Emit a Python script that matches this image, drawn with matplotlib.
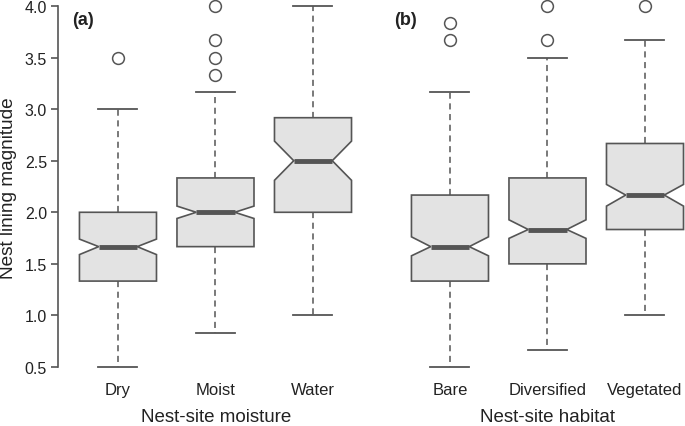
import matplotlib
matplotlib.use("Agg")
import matplotlib.pyplot as plt

plt.rcParams['font.family'] = ['Liberation Sans', 'DejaVu Sans']

# Panel (a): nest-site moisture
moist_cats = ["Dry", "Moist", "Water"]
moist_whislo = [0.5, 0.833, 1.0]
moist_q1 = [1.333, 1.667, 2.0]
moist_med = [1.667, 2.0, 2.5]
moist_q3 = [2.0, 2.333, 2.917]
moist_whishi = [3.0, 3.167, 4.0]
moist_cilo = [1.59, 1.94, 2.31]
moist_cihi = [1.74, 2.06, 2.69]
moist_fliers = [[3.5], [3.333, 3.5, 3.667, 4.0], []]

# Panel (b): nest-site habitat
hab_cats = ["Bare", "Diversified", "Vegetated"]
hab_whislo = [0.5, 0.667, 1.0]
hab_q1 = [1.333, 1.5, 1.833]
hab_med = [1.667, 1.833, 2.167]
hab_q3 = [2.167, 2.333, 2.667]
hab_whishi = [3.167, 3.5, 3.667]
hab_cilo = [1.578, 1.747, 2.06]
hab_cihi = [1.762, 1.927, 2.27]
hab_fliers = [[3.667, 3.833], [3.667, 4.0], [4.0]]

yticks = [0.5, 1.0, 1.5, 2.0, 2.5, 3.0, 3.5, 4.0]
ylabel = "Nest lining magnitude"

EDGE = "#555555"
FACE = "#e3e3e3"
TXT = "#222222"
W, H = 685, 427

fig = plt.figure(figsize=(W / 100, H / 100), dpi=100)
bottom = (H - 368) / H
top = (H - 7) / H
axw = 294 / W
ax_a = fig.add_axes([58 / W, bottom, axw, top - bottom])
ax_b = fig.add_axes([390 / W, bottom, axw, top - bottom])


def draw(ax, cats, wlo, q1, med, q3, whi, cilo, cihi, fl):
    stats = []
    for i in range(len(cats)):
        stats.append(dict(label=cats[i], whislo=wlo[i], q1=q1[i], med=med[i],
                          q3=q3[i], whishi=whi[i], cilo=cilo[i], cihi=cihi[i],
                          fliers=fl[i]))
    ax.bxp(stats, positions=[1, 2, 3], widths=0.79, shownotches=True,
           patch_artist=True, capwidths=0.4,
           boxprops=dict(facecolor=FACE, edgecolor=EDGE, linewidth=1.2),
           medianprops=dict(color=EDGE, linewidth=3.5, solid_capstyle='butt'),
           whiskerprops=dict(color=EDGE, linewidth=1.1, linestyle=(0, (4, 3))),
           capprops=dict(color=EDGE, linewidth=1.3),
           flierprops=dict(marker='o', markersize=8.5, markerfacecolor='white',
                           markeredgecolor=EDGE, markeredgewidth=1.1))
    for art in ax.get_children():
        try:
            art.set_clip_on(False)
        except Exception:
            pass
    ax.set_xlim(0.385, 3.4)
    ax.set_ylim(0.5, 4.0)
    for s in ['top', 'right', 'bottom']:
        ax.spines[s].set_visible(False)
    ax.set_xticks([1, 2, 3])
    ax.set_xticklabels([])
    ax.tick_params(axis='x', length=0)
    # category labels placed by data x coordinate, baseline in pixels
    trans = ax.get_xaxis_transform()
    for p, c in zip([1, 2, 3], cats):
        ax.text(p, -(395 - 368) / 361, c, transform=trans, ha='center',
                va='baseline', fontsize=12, color=TXT)


draw(ax_a, moist_cats, moist_whislo, moist_q1, moist_med, moist_q3,
     moist_whishi, moist_cilo, moist_cihi, moist_fliers)
draw(ax_b, hab_cats, hab_whislo, hab_q1, hab_med, hab_q3,
     hab_whishi, hab_cilo, hab_cihi, hab_fliers)

ax_a.spines['left'].set_color(EDGE)
ax_a.spines['left'].set_linewidth(1.2)
ax_a.set_yticks(yticks)
ax_a.set_yticklabels([f"{v:.1f}" for v in yticks])
ax_a.tick_params(axis='y', length=5, width=1.2, color=EDGE, labelsize=11.5,
                 pad=3, labelcolor=TXT)
ax_b.spines['left'].set_visible(False)
ax_b.set_yticks([])

fig.text(9 / W, 1 - 188 / H, ylabel, rotation=90, ha='center', va='center',
         fontsize=13.7, color=TXT)
fig.text(216 / W, 1 - 422.5 / H, "Nest-site moisture", ha='center',
         va='baseline', fontsize=13.5, color=TXT)
fig.text(547 / W, 1 - 422.5 / H, "Nest-site habitat", ha='center',
         va='baseline', fontsize=13.5, color=TXT)
fig.text(72 / W, 1 - 25 / H, "(a)", ha='left', va='baseline', fontsize=13,
         fontweight='bold', color=TXT)
fig.text(394 / W, 1 - 25 / H, "(b)", ha='left', va='baseline', fontsize=13,
         fontweight='bold', color=TXT)

fig.savefig("out.png", dpi=100)
